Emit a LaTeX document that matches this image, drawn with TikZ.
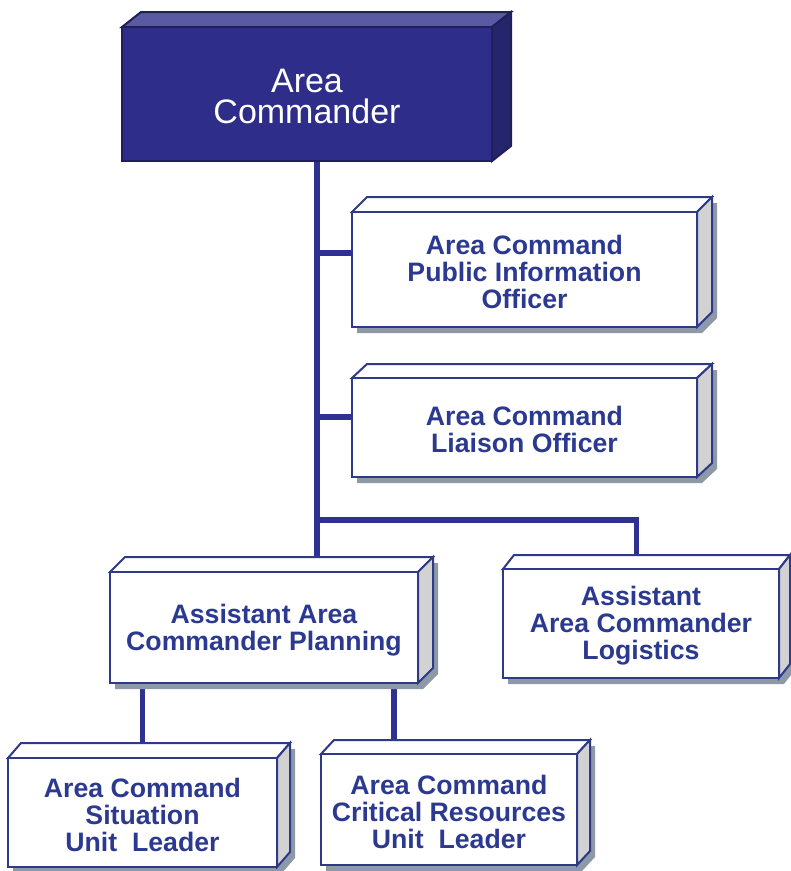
\documentclass[tikz,border=0pt]{standalone}
\usepackage{fontspec}
\setmainfont{Liberation Sans}
\usetikzlibrary{calc}
\pgfdeclarelayer{background}
\pgfsetlayers{background,main}

\definecolor{linkblue}{HTML}{2E3192}
\definecolor{edgeblue}{HTML}{2E3A87}
\definecolor{textblue}{HTML}{2B3990}
\definecolor{sidegray}{HTML}{D2D2D2}
\definecolor{shadowgray}{HTML}{8D99A6}
\definecolor{acblue}{HTML}{2E2E8A}
\definecolor{actop}{HTML}{5A5AA2}
\definecolor{acside}{HTML}{25256C}
\definecolor{acedge}{HTML}{1F1F5E}

\tikzset{
  conn/.style={draw=linkblue, line width=3.9pt},
  w front/.style={draw=edgeblue, fill=white, line width=1.5pt, inner sep=0pt},
  w text/.style={text=textblue, align=center, inner sep=0pt,
    font=\bfseries\fontsize{20}{20.25}\selectfont},
  w top/.style={draw=edgeblue, fill=white, line width=1.5pt},
  w side/.style={draw=edgeblue, fill=sidegray, line width=1.5pt},
  w shadow/.style={fill=shadowgray},
  d front/.style={draw=acedge, fill=acblue, line width=1.5pt, inner sep=0pt},
  d text/.style={text=white, align=center, inner sep=0pt,
    font=\fontsize{25.5}{23.5}\selectfont},
  d top/.style={draw=acedge, fill=actop, line width=1.5pt},
  d side/.style={draw=acedge, fill=acside, line width=1.5pt},
  d shadow/.style={},
}

% #1 kind (w/d), #2 name, #3 x1, #4 y1, #5 x2, #6 y2 (front face), #7 dx, #8 dy (depth), #9 text
\newcommand\prism[9]{%
  \path[#1 shadow] (#3+5,#6+6) -- (#5+5,#6+6) -- (#5+#7+5,#6-#8+6)
    -- (#5+#7+5,#4-#8+6) -- (#3+#7+5,#4-#8+6) -- (#3+5,#4+6) -- cycle;
  \path[#1 top] (#3,#4) -- (#3+#7,#4-#8) -- (#5+#7,#4-#8) -- (#5,#4) -- cycle;
  \path[#1 side] (#5,#4) -- (#5+#7,#4-#8) -- (#5+#7,#6-#8) -- (#5,#6) -- cycle;
  \node[#1 front, minimum width={(#5-#3)*0.75pt}, minimum height={(#6-#4)*0.75pt}]
    (#2) at ({(#3+#5)/2},{(#4+#6)/2}) {};
  \node[#1 text] (#2-label) at ([yshift=-1.8pt]#2.center) {#9};%
}

\begin{document}
\begin{tikzpicture}[x=0.75pt, y=-0.75pt]
  \useasboundingbox (0,0) rectangle (791,871);

  \prism{d}{ac}{122}{27}{492}{161}{19}{15}{Area\\Commander}
  \prism{w}{pio}{352}{212}{697}{327}{15}{15}{Area Command\\Public Information\\Officer}
  \prism{w}{lia}{352}{378}{697}{477}{15}{14}{Area Command\\Liaison Officer}
  \prism{w}{plan}{110}{572}{418}{683}{15}{15}{Assistant Area\\Commander Planning}
  \prism{w}{log}{503}{569}{779}{678}{11}{14}{Assistant\\Area Commander\\Logistics}
  \prism{w}{sit}{8}{758}{277}{867}{13}{15}{Area Command\\Situation\\Unit\ \ Leader}
  \prism{w}{crit}{321}{754}{577}{865}{13}{14}{Area Command\\Critical Resources\\Unit\ \ Leader}

  \begin{pgfonlayer}{background}
    % main trunk from the Area Commander down to Planning
    \draw[conn] ([xshift=7.5pt]ac.south) coordinate (tr) -- (tr |- plan.north);
    % staff branches
    \coordinate (pioin) at ([yshift=12.4pt]pio.west);
    \coordinate (liain) at ([yshift=7.9pt]lia.west);
    \draw[conn] (tr |- pioin) -- (pioin);
    \draw[conn] (tr |- liain) -- (liain);
    % branch to Logistics
    \coordinate (j) at (317,520);
    \coordinate (login) at ([xshift=-3.4pt]log.north);
    \draw[conn] (tr |- j) -| (login);
    % Planning units
    \draw[conn] (sit.north |- plan.south) -- (sit.north);
    \coordinate (pc) at ([xshift=97.5pt]plan.south);
    \draw[conn] (pc) -- (pc |- crit.north);
  \end{pgfonlayer}
\end{tikzpicture}
\end{document}
